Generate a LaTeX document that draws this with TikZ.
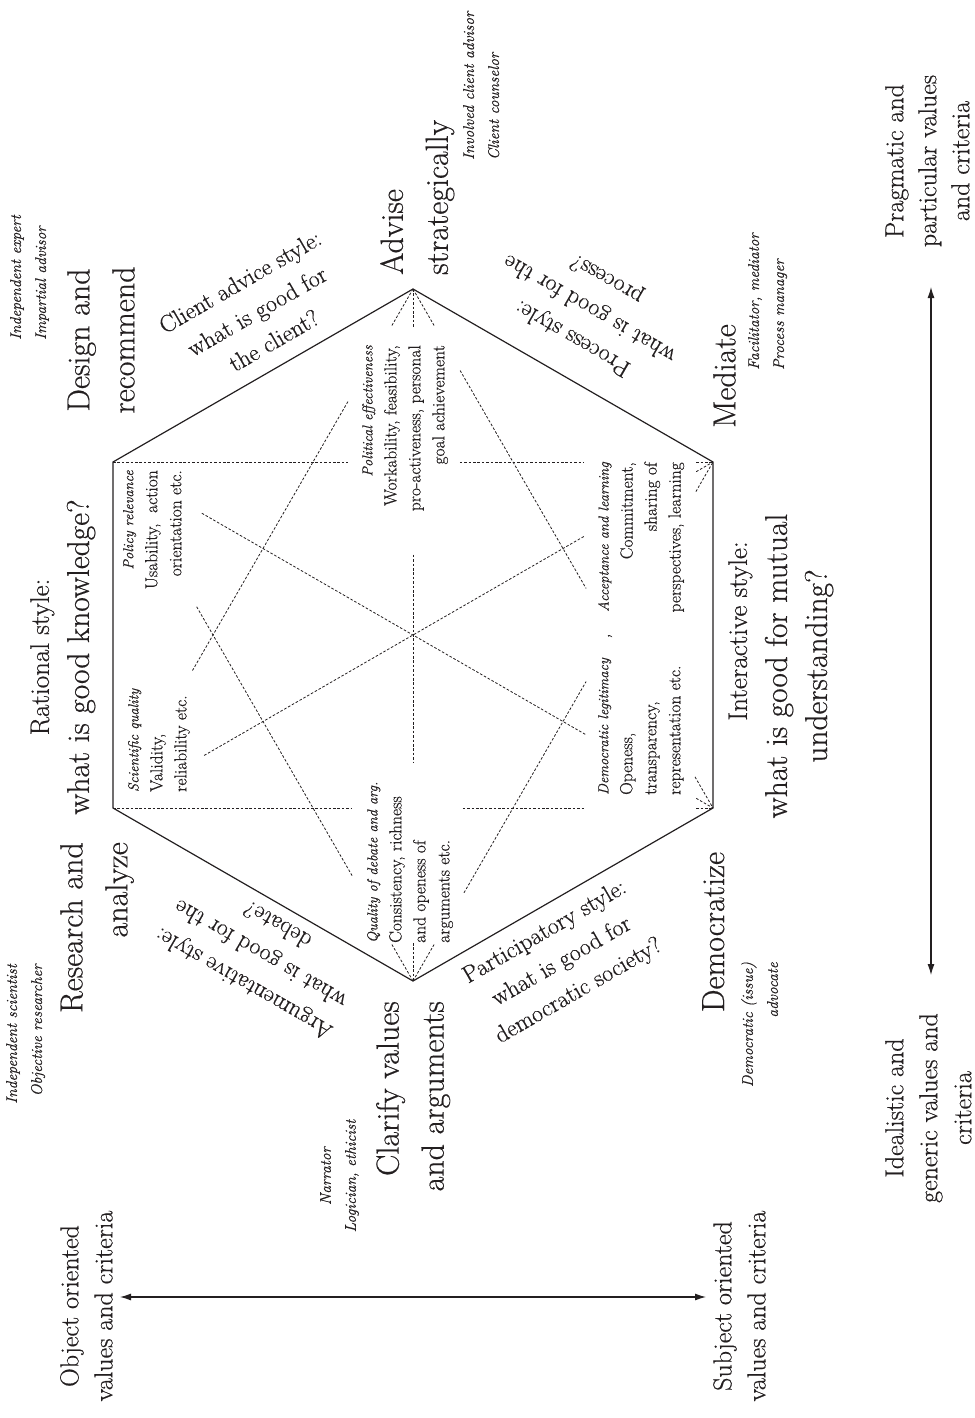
\documentclass[tikz,border=0pt]{standalone}
\usepackage{fontspec}
\setmainfont{Latin Modern Roman}[FakeBold=0.5]
\usetikzlibrary{calc,arrows.meta}
\definecolor{ink}{HTML}{231F20}

% dashed piece of a diagonal between two named corners, from fraction #3 to #4
\newcommand{\dseg}[4]{\draw[spoke] ($(#1)!#3!(#2)$) -- ($(#1)!#4!(#2)$);}
\newcommand{\hdr}{\fontsize{14.5}{24}\selectfont\itshape}
\newcommand{\sidehead}{\fontsize{27}{40}\selectfont}

\begin{document}
\begin{tikzpicture}[x=1pt,y=1pt,
  every node/.style={text=ink, inner sep=0pt},
  hexline/.style={draw=ink, line width=1.2pt, line join=miter},
  spoke/.style={draw=ink, line width=0.8pt, dash pattern=on 2.6pt off 1.8pt},
  axisarrow/.style={draw=ink, line width=1.1pt, {Latex[length=11pt,width=7pt]}-{Latex[length=11pt,width=7pt]}},
  biglab/.style={font=\fontsize{32}{45}\selectfont, rotate=90},
  rolelab/.style={font=\fontsize{15.5}{25}\selectfont\itshape, rotate=90},
  sidelab/.style={font=\fontsize{31.5}{40}\selectfont, rotate=90, align=center},
  edgelab/.style={font=\fontsize{24}{34}\selectfont, align=center},
  axislab/.style={font=\fontsize{26}{34}\selectfont, rotate=90, align=center},
  critlab/.style={font=\fontsize{17.5}{24}\selectfont, rotate=90}
]
\useasboundingbox (0,0) rectangle (974,-1418);

% corners of the hexagon
\coordinate (T)  at (413,-289);
\coordinate (UR) at (713,-462);
\coordinate (LR) at (713,-808);
\coordinate (B)  at (413,-981);
\coordinate (LL) at (113,-808);
\coordinate (UL) at (113,-462);

\draw[hexline] (T) -- (UR) -- (LR) -- (B) -- (LL) -- (UL) -- cycle;

% diagonals, broken where the criteria texts sit
\dseg{T}{B}{0}{0.055}    \dseg{T}{B}{0.384}{0.684}  \dseg{T}{B}{0.945}{1}
\dseg{T}{LL}{0}{0.073}   \dseg{T}{LL}{0.217}{0.737}
\dseg{T}{LR}{0}{0.073}   \dseg{T}{LR}{0.157}{0.577} \dseg{T}{LR}{0.94}{1}
\dseg{B}{UL}{0}{0.073}   \dseg{B}{UL}{0.203}{0.723}
\dseg{B}{UR}{0}{0.073}   \dseg{B}{UR}{0.17}{0.577}  \dseg{B}{UR}{0.943}{1}
\dseg{UL}{LR}{0.148}{0.788} \dseg{UL}{LR}{0.972}{1}
\dseg{LL}{UR}{0.152}{0.785} \dseg{LL}{UR}{0.972}{1}
\dseg{UL}{UR}{0}{0.392}  \dseg{UL}{UR}{0.578}{0.785} \dseg{UL}{UR}{0.972}{1}
\dseg{LL}{LR}{0}{0.398}  \dseg{LL}{LR}{0.583}{0.788} \dseg{LL}{LR}{0.972}{1}

% criteria inside the hexagon
\node[critlab, align=right, anchor=north east] (policy) at (123,-470)
  {{\hdr Policy relevance}\\Usability,\ \ action\\orientation etc.};
\node[critlab, align=left, anchor=north west] (science) at (128,-792)
  {{\hdr Scientific quality}\\Validity,\\reliability etc.};
\node[critlab, align=right, anchor=north east] (politic) at (362,-345)
  {{\hdr Political effectiveness}\\Workability, feasibility,\\pro-activeness, personal\\goal achievement};
\node[critlab, align=left, anchor=north west] (debate) at (367,-943)
  {{\hdr Quality of debate and arg.}\\Consistency, richness\\and openess of\\arguments etc.};
\node[critlab, align=right, anchor=north east] (accept) at (598,-462)
  {{\hdr Acceptance and learning}\\Commitment,\\sharing of\\perspectives, learning};
\node[critlab, align=left, anchor=north west] (legit) at (598,-795)
  {{\hdr Democratic legitimacy}\\Openess,\\transparency,\\representation etc.};
\node[critlab, font=\hdr] (comma) at (610,-636) {,};

% activities at the corners
\node[biglab, align=center, anchor=north] (design) at (67,-340) {Design and\\recommend};
\node[biglab, align=left, anchor=north west] (advise) at (380,-275) {Advise\\strategically};
\node[biglab, anchor=north] (mediate) at (713,-376) {Mediate};
\node[biglab, anchor=north] (democ) at (702,-932) {Democratize};
\node[biglab, align=right, anchor=north east] (clarify) at (376,-1001) {Clarify values\\and arguments};
\node[biglab, align=right, anchor=north east] (research) at (60,-842) {Research and\\analyze};

% roles
\node[rolelab, align=left, anchor=north west] (expert) at (10,-340) {Independent expert\\Impartial advisor};
\node[rolelab, align=left, anchor=north west] (client) at (463,-160) {Involved client advisor\\Client counselor};
\node[rolelab, align=left, anchor=north west] (facil) at (748,-370) {Facilitator, mediator\\Process manager};
\node[rolelab, align=right, anchor=north east] (advoc) at (741,-962) {Democratic (issue)\\advocate};
\node[rolelab, align=center, anchor=north] (narr) at (320,-1176) {Narrator\\Logician, ethicist};
\node[rolelab, align=right, anchor=north east] (scient) at (6,-964) {Independent scientist\\Objective researcher};

% styles along the sides
\node[sidelab, anchor=north] (rational) at (30,-657) {{\sidehead Rational style:}\\what is good knowledge?};
\node[sidelab, anchor=north] (interact) at (728,-666) {{\sidehead\hspace*{70pt}Interactive style:}\\what is good for mutual\\understanding?};
\node[edgelab, rotate=30] (cadvice) at (257,-311) {Client advice style:\\what is good for\\the client?};
\node[edgelab, rotate=150] (process) at (590,-308) {Process style:\\what is good for the\\process?};
\node[edgelab, rotate=30] (partic) at (562,-962) {Participatory style:\\what is good for\\democratic society?};
\node[edgelab, rotate=150] (argum) at (260,-955) {Argumentative style:\\what is good for the\\debate?};

% the two value axes
\node[axislab, font=\fontsize{26}{33}\selectfont, anchor=north] (pragm) at (885,-161) {Pragmatic and\\particular values\\and criteria};
\node[axislab, anchor=north] (ideal) at (885,-1108) {Idealistic and\\generic values and\\criteria};
\node[axislab, anchor=north] (object) at (60,-1306) {Object oriented\\values and criteria};
\node[axislab, anchor=north] (subject) at (713,-1306) {Subject oriented\\values and criteria};

\coordinate (vtop) at (931,-287);
\coordinate (vbot) at (931,-975);
\coordinate (hleft) at (120,-1297);
\coordinate (hright) at (706,-1297);
\draw[axisarrow] (vtop) -- (vbot);
\draw[axisarrow] (hleft) -- (hright);
\end{tikzpicture}
\end{document}
